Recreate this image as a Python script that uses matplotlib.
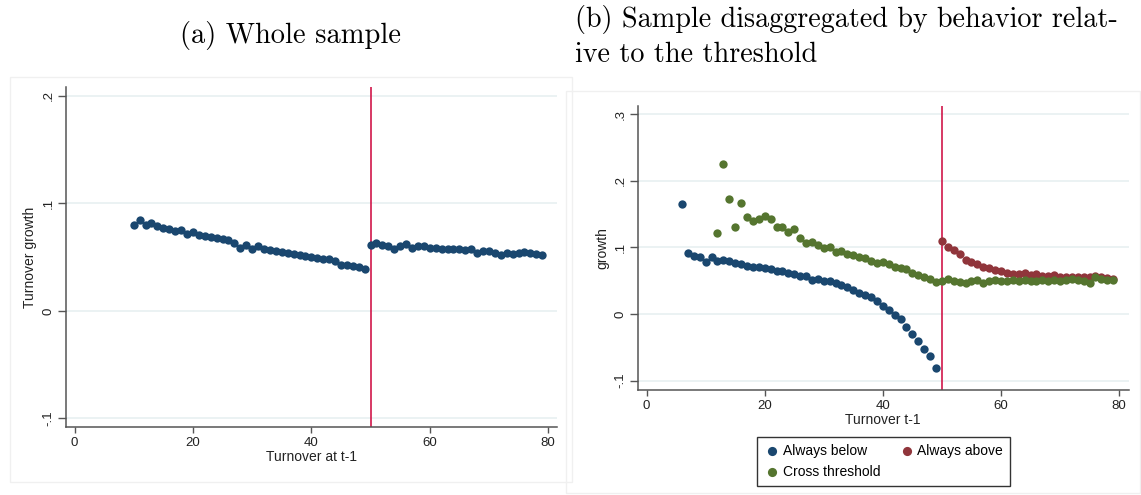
import matplotlib.pyplot as plt
import matplotlib.ticker as mticker
from matplotlib.patches import Rectangle

# ---- panel (a): whole sample ----
whole_x = list(range(10, 80))
whole_y = [
    0.080, 0.085, 0.080, 0.082, 0.079, 0.077, 0.076, 0.074, 0.075, 0.072,
    0.073, 0.071, 0.070, 0.069, 0.068, 0.067, 0.066, 0.063, 0.059, 0.061,
    0.058, 0.060, 0.058, 0.057, 0.056, 0.055, 0.054, 0.053, 0.052, 0.051,
    0.050, 0.049, 0.048, 0.048, 0.046, 0.043, 0.043, 0.042, 0.041, 0.039,
    0.061, 0.063, 0.061, 0.060, 0.058, 0.060, 0.062, 0.059, 0.060, 0.060,
    0.059, 0.059, 0.058, 0.058, 0.058, 0.058, 0.057, 0.058, 0.054, 0.056,
    0.056, 0.054, 0.052, 0.054, 0.053, 0.054, 0.055, 0.054, 0.053, 0.052,
]

# ---- panel (b): by behaviour relative to threshold ----
below_x = list(range(6, 50))
below_y = [
    0.165, 0.091, 0.087, 0.086, 0.078, 0.085, 0.079, 0.081, 0.079, 0.077,
    0.075, 0.072, 0.071, 0.071, 0.069, 0.067, 0.065, 0.064, 0.061, 0.060,
    0.057, 0.057, 0.051, 0.053, 0.049, 0.049, 0.046, 0.044, 0.040, 0.036,
    0.032, 0.029, 0.025, 0.020, 0.012, 0.006, -0.001, -0.008, -0.020, -0.030,
    -0.040, -0.052, -0.063, -0.081,
]

above_x = list(range(50, 80))
above_y = [
    0.109, 0.101, 0.096, 0.090, 0.081, 0.078, 0.075, 0.071, 0.069, 0.066,
    0.064, 0.062, 0.060, 0.060, 0.061, 0.059, 0.060, 0.057, 0.057, 0.058,
    0.056, 0.056, 0.056, 0.055, 0.055, 0.056, 0.057, 0.055, 0.054, 0.052,
]

cross_x = list(range(12, 80))
cross_y = [
    0.122, 0.225, 0.172, 0.131, 0.167, 0.146, 0.140, 0.143, 0.147, 0.142,
    0.131, 0.130, 0.123, 0.127, 0.114, 0.107, 0.108, 0.103, 0.099, 0.100,
    0.093, 0.095, 0.090, 0.089, 0.086, 0.084, 0.080, 0.077, 0.078, 0.075,
    0.071, 0.069, 0.067, 0.062, 0.059, 0.056, 0.052, 0.048,
    0.050, 0.052, 0.050, 0.048, 0.047, 0.050, 0.051, 0.047, 0.050, 0.051,
    0.050, 0.050, 0.051, 0.050, 0.051, 0.050, 0.050, 0.051, 0.050, 0.051,
    0.049, 0.051, 0.052, 0.051, 0.050, 0.047, 0.055, 0.052, 0.051, 0.051,
]

threshold = 50
xticks = [0, 20, 40, 60, 80]
yticks_a = [-0.1, 0, 0.1, 0.2]
yticks_b = [-0.1, 0, 0.1, 0.2, 0.3]

navy = "#1a476f"
maroon = "#90353b"
green = "#55752f"
red = "#d1164a"
sans = ["Liberation Sans", "DejaVu Sans"]
msize = 36


def stata_fmt(v, pos):
    if abs(v) < 1e-9:
        return "0"
    s = f"{v:g}"
    return s.replace("0.", ".")


def style_axes(ax, yticks):
    for side in ("top", "right"):
        ax.spines[side].set_visible(False)
    for side in ("left", "bottom"):
        ax.spines[side].set_color("#555555")
        ax.spines[side].set_linewidth(1.1)
    ax.set_xticks(xticks)
    ax.set_yticks(yticks)
    ax.yaxis.set_major_formatter(mticker.FuncFormatter(stata_fmt))
    ax.tick_params(axis="x", length=4, width=1, color="#555555", pad=3,
                   labelsize=9.5, labelcolor="#222222")
    ax.tick_params(axis="y", length=6, width=1, color="#555555", pad=2,
                   labelsize=9.5, labelcolor="#222222")
    for lab in ax.get_yticklabels():
        lab.set_rotation(90)
        lab.set_va("center")
    for lab in ax.get_xticklabels() + ax.get_yticklabels():
        lab.set_family(sans)
    ax.yaxis.grid(True, color="#e8f0f1", lw=1.2)
    ax.set_axisbelow(True)


fig = plt.figure(figsize=(11.41, 4.95), dpi=100)

# faint graph-region frames
fig.patches.append(Rectangle((10 / 1141, 1 - 482 / 495), 562 / 1141, 405 / 495,
                             transform=fig.transFigure, fill=False,
                             ec="#f0f0f0", lw=1))
fig.patches.append(Rectangle((566 / 1141, 0.005), 574 / 1141, 1 - 91 / 495 - 0.005,
                             transform=fig.transFigure, fill=False,
                             ec="#f0f0f0", lw=1))

ax1 = fig.add_axes([0.0578, 0.1374, 0.4304, 0.6869])
ax1.scatter(whole_x, whole_y, s=msize, color=navy, zorder=3, linewidths=0)
ax1.axvline(threshold, color=red, lw=1.2, zorder=2)
ax1.set_xlim(-1.45, 81.5)
ax1.set_ylim(-0.108, 0.2084)
style_axes(ax1, yticks_a)
ax1.set_xlabel("Turnover at t-1", family=sans, fontsize=10, labelpad=1,
               color="#222222")
ax1.set_ylabel("Turnover growth", family=sans, fontsize=10, labelpad=4,
               color="#222222")

ax2 = fig.add_axes([0.5589, 0.2121, 0.4302, 0.5737])
h1 = ax2.scatter(below_x, below_y, s=msize, color=navy, zorder=3, linewidths=0,
                 label="Always below")
h2 = ax2.scatter(above_x, above_y, s=msize, color=maroon, zorder=3, linewidths=0,
                 label="Always above")
h3 = ax2.scatter(cross_x, cross_y, s=msize, color=green, zorder=3, linewidths=0,
                 label="Cross threshold")
ax2.axvline(threshold, color=red, lw=1.2, zorder=2)
ax2.set_xlim(-1.5, 81.6)
ax2.set_ylim(-0.114, 0.312)
style_axes(ax2, yticks_b)
ax2.set_xlabel("Turnover t-1", family=sans, fontsize=10, labelpad=1,
               color="#222222")
ax2.set_ylabel("growth", family=sans, fontsize=10, labelpad=4,
               color="#222222")

leg = fig.legend([h1, h3, h2], ["Always below", "Cross threshold", "Always above"],
                 ncol=2, loc="center", bbox_to_anchor=(0.7743, 0.0677),
                 prop={"family": sans, "size": 10}, fancybox=False,
                 edgecolor="#333333", framealpha=1, borderpad=0.5,
                 handletextpad=0.15, columnspacing=1.3, labelspacing=0.5,
                 handlelength=1.2, borderaxespad=0, markerscale=1.1)
leg.get_frame().set_linewidth(1)

fig.text(290.5 / 1141, 1 - 43 / 495, "(a) Whole sample", family="cmr10",
         fontsize=20.5, ha="center", va="baseline")
fig.text(575 / 1141, 1 - 27 / 495, "(b) Sample disaggregated by behavior relat-",
         family="cmr10", fontsize=20.3, ha="left", va="baseline")
fig.text(575 / 1141, 1 - 62 / 495, "ive to the threshold",
         family="cmr10", fontsize=20.3, ha="left", va="baseline")

fig.savefig("out.png", dpi=100)
